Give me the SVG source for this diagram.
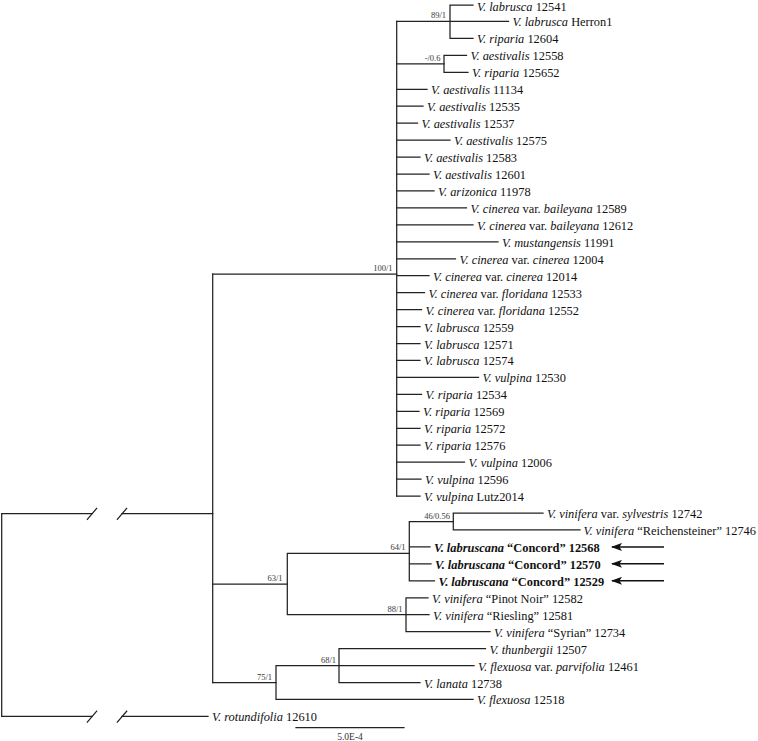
<svg xmlns="http://www.w3.org/2000/svg" width="758" height="741" viewBox="0 0 758 741">
<style>
.br{stroke:#222;stroke-width:1.25;fill:none;stroke-linecap:square}
.lf{font-family:"Liberation Serif","Times New Roman",serif;font-size:12.4px;fill:#111}
.i{font-style:italic}
.bd{font-weight:bold}
.sp{font-family:"Liberation Serif","Times New Roman",serif;font-size:8.5px;fill:#3a3a3a;text-anchor:end}
.sc{font-family:"Liberation Serif","Times New Roman",serif;font-size:9.5px;fill:#333;text-anchor:middle}
.ar{stroke:#111;stroke-width:1.5;fill:none}
</style>
<defs>
<marker id="ah" markerWidth="11" markerHeight="8" refX="10" refY="4" orient="auto" markerUnits="userSpaceOnUse">
<path d="M0,0 L11,4 L0,8 L2.5,4 z" fill="#111"/>
</marker>
</defs>
<rect width="758" height="741" fill="#fff"/>
<g id="connectors">
<path class="br" d="M1.7,513.5 V716.4"/>
<path class="br" d="M1.7,513.5 H92 M122,513.5 H212.7"/>
<path class="br" d="M87.3,519.3 L96.7,508.3 M117.3,519.3 L126.7,508.3"/>
<path class="br" d="M1.7,716.4 H92 M122,716.4 H208"/>
<path class="br" d="M87.3,722.2 L96.7,711.2 M117.3,722.2 L126.7,711.2"/>
<path class="br" d="M212.7,274.1 V682.5"/>
<path class="br" d="M212.7,274.1 H396.7 M212.7,584 H287.3 M212.7,682.5 H276"/>
<path class="br" d="M396.7,21.45 V496.05"/>
<path class="br" d="M396.7,21.45 H450 M396.7,63.8 H444"/>
<path class="br" d="M450,5 V38.4 M450,5 H473 M450,21.45 H508.5 M450,38.4 H473"/>
<path class="br" d="M444,55.35 V72.3 M444,55.35 H466.5 M444,72.3 H468"/>
<path class="br" d="M396.7,89.25 H427 M396.7,106.2 H423 M396.7,123.15 H417.5 M396.7,140.1 H450 M396.7,157.05 H420 M396.7,174 H429 M396.7,190.95 H434 M396.7,207.9 H466.5 M396.7,224.85 H473 M396.7,241.8 H498 M396.7,258.75 H455.5 M396.7,275.7 H429 M396.7,292.65 H424.5 M396.7,309.6 H421.5 M396.7,326.55 H420 M396.7,343.5 H420 M396.7,360.45 H420 M396.7,377.4 H478.5 M396.7,394.35 H421.5 M396.7,411.3 H419 M396.7,428.25 H420 M396.7,445.2 H420 M396.7,462.15 H464.5 M396.7,479.1 H421 M396.7,496.05 H420"/>
<path class="br" d="M287.3,553.3 V614.7 M287.3,553.3 H409.3 M287.3,614.7 H406"/>
<path class="br" d="M409.3,521.5 V580.8 M409.3,521.5 H453.3 M409.3,546.9 H430 M409.3,563.85 H431 M409.3,580.8 H434.5"/>
<path class="br" d="M453.3,513 V529.95 M453.3,513 H543 M453.3,529.95 H580"/>
<path class="br" d="M406,597.75 V631.65 M406,597.75 H428 M406,614.7 H429 M406,631.65 H490"/>
<path class="br" d="M276,665.6 V699.45 M276,665.6 H339 M276,699.45 H473"/>
<path class="br" d="M339,648.6 V682.5 M339,648.6 H485.5 M339,665.55 H474 M339,682.5 H420"/>
</g>
<g id="n_support">
<text class="sp" x="446" y="18.3">89/1</text>
<text class="sp" x="440.5" y="60.8">-/0.6</text>
<text class="sp" x="392.5" y="271.3">100/1</text>
<text class="sp" x="450" y="518.5">46/0.56</text>
<text class="sp" x="405.5" y="550.3">64/1</text>
<text class="sp" x="402.5" y="611.7">88/1</text>
<text class="sp" x="282.5" y="581">63/1</text>
<text class="sp" x="336" y="662.6">68/1</text>
<text class="sp" x="272" y="679.5">75/1</text>
</g>
<g id="leaves" class="lf">
<g id="n00"><text x="477" y="11.2"><tspan class="i">V. labrusca</tspan> 12541</text></g>
<g id="n01"><text x="512.5" y="26.45"><tspan class="i">V. labrusca</tspan> Herron1</text></g>
<g id="n02"><text x="477" y="43.4"><tspan class="i">V. riparia</tspan> 12604</text></g>
<g id="n03"><text x="470.5" y="60.35"><tspan class="i">V. aestivalis</tspan> 12558</text></g>
<g id="n04"><text x="472" y="77.3"><tspan class="i">V. riparia</tspan> 125652</text></g>
<g id="n05"><text x="431" y="94.25"><tspan class="i">V. aestivalis</tspan> 11134</text></g>
<g id="n06"><text x="427" y="111.2"><tspan class="i">V. aestivalis</tspan> 12535</text></g>
<g id="n07"><text x="421.5" y="128.15"><tspan class="i">V. aestivalis</tspan> 12537</text></g>
<g id="n08"><text x="454" y="145.1"><tspan class="i">V. aestivalis</tspan> 12575</text></g>
<g id="n09"><text x="424" y="162.05"><tspan class="i">V. aestivalis</tspan> 12583</text></g>
<g id="n10"><text x="433" y="179"><tspan class="i">V. aestivalis</tspan> 12601</text></g>
<g id="n11"><text x="438" y="195.95"><tspan class="i">V. arizonica</tspan> 11978</text></g>
<g id="n12"><text x="470.5" y="212.9"><tspan class="i">V. cinerea</tspan> var. <tspan class="i">baileyana</tspan> 12589</text></g>
<g id="n13"><text x="477" y="229.85"><tspan class="i">V. cinerea</tspan> var. <tspan class="i">baileyana</tspan> 12612</text></g>
<g id="n14"><text x="502" y="246.8"><tspan class="i">V. mustangensis</tspan> 11991</text></g>
<g id="n15"><text x="459.5" y="263.75"><tspan class="i">V. cinerea</tspan> var. <tspan class="i">cinerea</tspan> 12004</text></g>
<g id="n16"><text x="433" y="280.7"><tspan class="i">V. cinerea</tspan> var. <tspan class="i">cinerea</tspan> 12014</text></g>
<g id="n17"><text x="428.5" y="297.65"><tspan class="i">V. cinerea</tspan> var. <tspan class="i">floridana</tspan> 12533</text></g>
<g id="n18"><text x="425.5" y="314.6"><tspan class="i">V. cinerea</tspan> var. <tspan class="i">floridana</tspan> 12552</text></g>
<g id="n19"><text x="424" y="331.55"><tspan class="i">V. labrusca</tspan> 12559</text></g>
<g id="n20"><text x="424" y="348.5"><tspan class="i">V. labrusca</tspan> 12571</text></g>
<g id="n21"><text x="424" y="365.45"><tspan class="i">V. labrusca</tspan> 12574</text></g>
<g id="n22"><text x="482.5" y="382.4"><tspan class="i">V. vulpina</tspan> 12530</text></g>
<g id="n23"><text x="425.5" y="399.35"><tspan class="i">V. riparia</tspan> 12534</text></g>
<g id="n24"><text x="423" y="416.3"><tspan class="i">V. riparia</tspan> 12569</text></g>
<g id="n25"><text x="424" y="433.25"><tspan class="i">V. riparia</tspan> 12572</text></g>
<g id="n26"><text x="424" y="450.2"><tspan class="i">V. riparia</tspan> 12576</text></g>
<g id="n27"><text x="468.5" y="467.15"><tspan class="i">V. vulpina</tspan> 12006</text></g>
<g id="n28"><text x="425" y="484.1"><tspan class="i">V. vulpina</tspan> 12596</text></g>
<g id="n29"><text x="424" y="501.05"><tspan class="i">V. vulpina</tspan> Lutz2014</text></g>
<g id="n30"><text x="547" y="518"><tspan class="i">V. vinifera</tspan> var. <tspan class="i">sylvestris</tspan> 12742</text></g>
<g id="n31"><text x="583.5" y="534.95"><tspan class="i">V. vinifera</tspan> “Reichensteiner” 12746</text></g>
<g id="n32"><text class="bd" x="434" y="551.9"><tspan class="i">V. labruscana</tspan> “Concord” 12568</text></g>
<g id="n33"><text class="bd" x="435" y="568.85"><tspan class="i">V. labruscana</tspan> “Concord” 12570</text></g>
<g id="n34"><text class="bd" x="438.5" y="585.8"><tspan class="i">V. labruscana</tspan> “Concord” 12529</text></g>
<g id="n35"><text x="432" y="602.75"><tspan class="i">V. vinifera</tspan> “Pinot Noir” 12582</text></g>
<g id="n36"><text x="433" y="619.7"><tspan class="i">V. vinifera</tspan> “Riesling” 12581</text></g>
<g id="n37"><text x="494" y="636.65"><tspan class="i">V. vinifera</tspan> “Syrian” 12734</text></g>
<g id="n38"><text x="489.5" y="653.6"><tspan class="i">V. thunbergii</tspan> 12507</text></g>
<g id="n39"><text x="478" y="670.55"><tspan class="i">V. flexuosa</tspan> var. <tspan class="i">parvifolia</tspan> 12461</text></g>
<g id="n40"><text x="424" y="687.5"><tspan class="i">V. lanata</tspan> 12738</text></g>
<g id="n41"><text x="477" y="704.45"><tspan class="i">V. flexuosa</tspan> 12518</text></g>
<g id="n42"><text x="212" y="721.4"><tspan class="i">V. rotundifolia</tspan> 12610</text></g>
</g>
<g id="arrows">
<line class="ar" x1="664" y1="546.9" x2="612" y2="546.9" marker-end="url(#ah)"/>
<line class="ar" x1="664" y1="563.85" x2="612" y2="563.85" marker-end="url(#ah)"/>
<line class="ar" x1="664" y1="580.8" x2="612" y2="580.8" marker-end="url(#ah)"/>
</g>
<g id="scalebar">
<path class="br" d="M296,727.7 H404"/>
<text class="sc" x="350" y="739.5">5.0E-4</text>
</g>
</svg>
